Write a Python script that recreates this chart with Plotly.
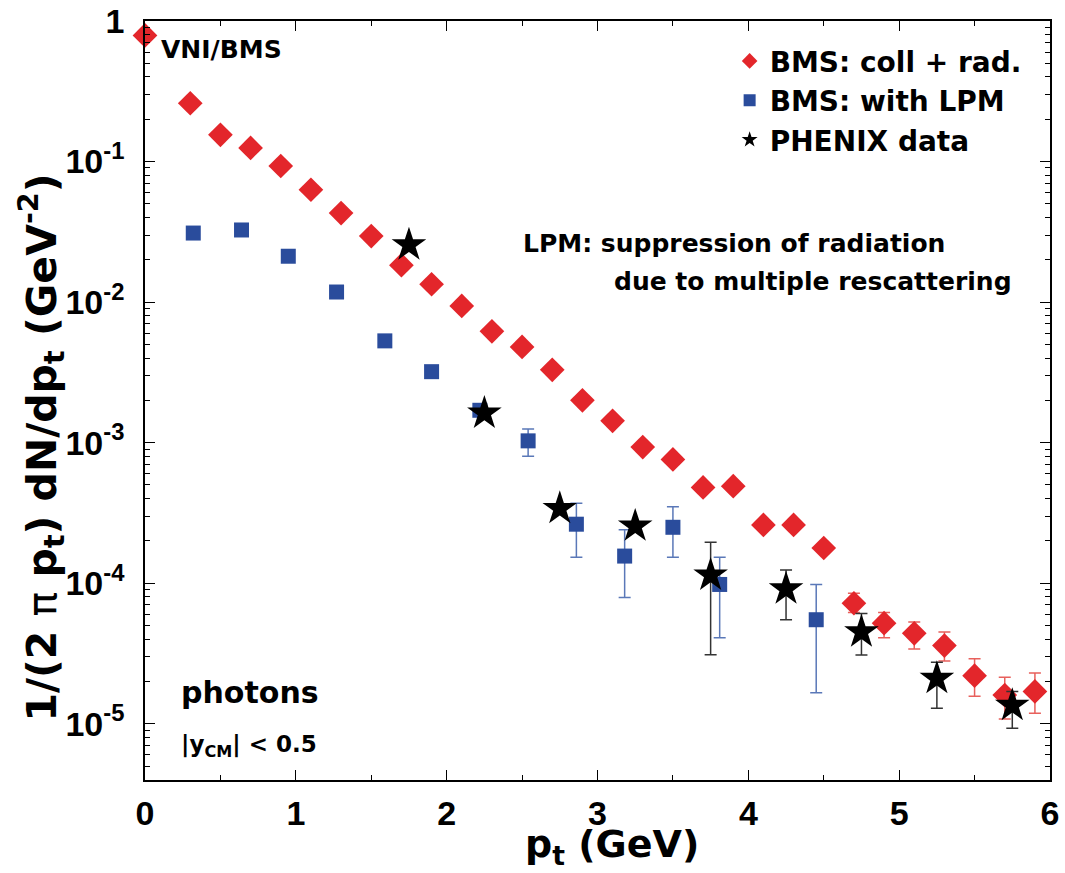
import plotly.graph_objects as go
import numpy as np

# --- BMS: coll + rad. (red diamonds)
red_x = [0.0, 0.3, 0.5, 0.7, 0.9, 1.1, 1.3, 1.5, 1.7, 1.9, 2.1, 2.3, 2.5, 2.7, 2.9,
         3.1, 3.3, 3.5, 3.7, 3.9, 4.1, 4.3, 4.5, 4.7, 4.9, 5.1, 5.3, 5.5, 5.7, 5.9]
red_y = [0.79, 0.26, 0.155, 0.125, 0.093, 0.063, 0.043, 0.0295, 0.0183, 0.0134, 0.0094,
         0.0062, 0.0048, 0.0033, 0.0020, 0.00143, 0.00093, 0.00076, 0.00048, 0.00049,
         0.00026, 0.00026, 0.000178, 7.2e-5, 5.2e-5, 4.4e-5, 3.6e-5, 2.2e-5, 1.6e-5, 1.7e-5]
red_hi = [None] * 23 + [8.5e-5, 6.2e-5, 5.3e-5, 4.5e-5, 2.9e-5, 2.14e-5, 2.3e-5]
red_lo = [None] * 23 + [6.2e-5, 4.1e-5, 3.4e-5, 2.8e-5, 1.57e-5, 1.08e-5, 1.19e-5]

# --- BMS: with LPM (blue squares)
blue_x = [0.32, 0.64, 0.95, 1.27, 1.59, 1.90, 2.22, 2.54, 2.86, 3.18, 3.50, 3.81, 4.45]
blue_y = [0.031, 0.0326, 0.0212, 0.0118, 0.0053, 0.0032, 0.0017, 0.00103, 0.000263,
          0.000156, 0.00025, 9.8e-5, 5.5e-5]
blue_hi = [None, None, None, None, None, 0.0035, 0.00185, 0.00125, 3.7e-4, 2.4e-4, 3.5e-4, 1.53e-4, 9.8e-5]
blue_lo = [None, None, None, None, None, 0.0029, 0.0016, 0.0008, 1.53e-4, 7.9e-5, 1.53e-4, 4.1e-5, 1.66e-5]

# --- PHENIX data (black stars)
star_x = [1.75, 2.25, 2.75, 3.25, 3.75, 4.25, 4.75, 5.25, 5.75]
star_y = [0.0255, 0.00162, 0.00034, 0.000255, 1.14e-4, 9.1e-5, 4.5e-5, 2.1e-5, 1.35e-5]
star_hi = [None, None, None, None, 1.96e-4, 1.24e-4, 6.1e-5, 2.74e-5, 1.7e-5]
star_lo = [None, None, None, None, 3.1e-5, 5.5e-5, 3.08e-5, 1.29e-5, 9.3e-6]

y_tickvals = [1, 1e-1, 1e-2, 1e-3, 1e-4, 1e-5]
y_ticktext = ["1", "10<sup>-1</sup>", "10<sup>-2</sup>", "10<sup>-3</sup>",
              "10<sup>-4</sup>", "10<sup>-5</sup>"]
x_tickvals = [0, 1, 2, 3, 4, 5, 6]


def errs(y, hi, lo):
    up = [np.nan if h is None else h - v for v, h in zip(y, hi)]
    dn = [np.nan if l is None else v - l for v, l in zip(y, lo)]
    return up, dn


RED = "#e3262b"
BLUE = "#2a4c9c"
TICKFONT = "Liberation Sans, Arial, sans-serif"
TEXTFONT = "DejaVu Sans, Liberation Sans, sans-serif"

fig = go.Figure()

ru, rd = errs(red_y, red_hi, red_lo)
bu, bd = errs(blue_y, blue_hi, blue_lo)
su, sd = errs(star_y, star_hi, star_lo)

fig.add_trace(go.Scatter(
    x=red_x, y=red_y, mode="markers", name="BMS: coll + rad.",
    marker=dict(symbol="diamond", size=19, color=RED, line=dict(width=0)),
    error_y=dict(type="data", symmetric=False, array=ru, arrayminus=rd,
                 color="#e8605c", thickness=1.5, width=6),
    cliponaxis=False, showlegend=False))
fig.add_trace(go.Scatter(
    x=blue_x, y=blue_y, mode="markers", name="BMS: with LPM",
    marker=dict(symbol="square", size=15, color=BLUE, line=dict(width=0)),
    error_y=dict(type="data", symmetric=False, array=bu, arrayminus=bd,
                 color="#5a78b8", thickness=1.5, width=6),
    cliponaxis=False, showlegend=False))
fig.add_trace(go.Scatter(
    x=star_x, y=star_y, mode="markers", name="PHENIX data",
    marker=dict(symbol="star", size=26, color="black", line=dict(width=0)),
    error_y=dict(type="data", symmetric=False, array=su, arrayminus=sd,
                 color="#333333", thickness=1.5, width=6),
    cliponaxis=False, showlegend=False))

# legend entries
fig.add_trace(go.Scatter(x=[None], y=[None], mode="markers", name="BMS: coll + rad.",
                         marker=dict(symbol="diamond", size=20, color=RED)))
fig.add_trace(go.Scatter(x=[None], y=[None], mode="markers", name="BMS: with LPM",
                         marker=dict(symbol="square", size=16, color=BLUE)))
fig.add_trace(go.Scatter(x=[None], y=[None], mode="markers", name="PHENIX data",
                         marker=dict(symbol="star", size=18, color="black")))

ann_font = dict(family=TEXTFONT, color="black", weight="bold")
fig.add_annotation(xref="paper", yref="paper", x=0.015, y=0.962, xanchor="left", yanchor="middle",
                   text="VNI/BMS", showarrow=False, font=dict(size=25, **ann_font))
fig.add_annotation(xref="paper", yref="paper", x=0.416, y=0.707, xanchor="left", yanchor="middle",
                   text="LPM: suppression of radiation", showarrow=False, font=dict(size=25, **ann_font))
fig.add_annotation(xref="paper", yref="paper", x=0.516, y=0.657, xanchor="left", yanchor="middle",
                   text="due to multiple rescattering", showarrow=False, font=dict(size=25, **ann_font))
fig.add_annotation(xref="paper", yref="paper", x=0.038, y=0.115, xanchor="left", yanchor="middle",
                   text="photons", showarrow=False, font=dict(size=30, **ann_font))
fig.add_annotation(xref="paper", yref="paper", x=0.038, y=0.045, xanchor="left", yanchor="middle",
                   text="|y<sub>CM</sub>| < 0.5", showarrow=False, font=dict(size=23, **ann_font))

# axis titles (placed as annotations to match the reference position)
fig.add_annotation(xref="paper", yref="paper", x=0.516, y=-0.088, xanchor="center", yanchor="middle",
                   text="p<sub>t</sub> (GeV)", showarrow=False, font=dict(size=38, **ann_font))
fig.add_annotation(xref="paper", yref="paper", x=-0.115, y=0.438, xanchor="center", yanchor="middle",
                   textangle=-90, showarrow=False, font=dict(size=41, **ann_font),
                   text="1/(2 <span style='font-weight:normal'>π</span> p<sub>t</sub>) dN/dp<sub>t</sub> (GeV<sup>-2</sup>)")

axis_common = dict(showline=True, linecolor="black", linewidth=1.5, mirror="allticks",
                   ticks="inside", ticklen=10, tickwidth=1.2, tickcolor="black",
                   showgrid=False, zeroline=False, automargin=False,
                   tickfont=dict(family=TICKFONT, size=34, color="black", weight="bold"))

fig.update_xaxes(range=[0, 6], tickvals=x_tickvals, ticklabelstandoff=2,
                 minor=dict(dtick=0.5, ticks="inside", ticklen=5, tickcolor="black", showgrid=False),
                 **axis_common)
fig.update_yaxes(type="log", range=[-5.4, 0], tickvals=y_tickvals, ticktext=y_ticktext,
                 ticklabelstandoff=12,
                 minor=dict(dtick="D1", ticks="inside", ticklen=5, tickcolor="black", showgrid=False),
                 **axis_common)

fig.update_layout(
    width=1065, height=873,
    margin=dict(l=145, r=15, t=21, b=93),
    paper_bgcolor="white", plot_bgcolor="white",
    legend=dict(x=0.646, y=0.98, xanchor="left", yanchor="top",
                bgcolor="rgba(0,0,0,0)", itemsizing="constant",
                font=dict(family=TEXTFONT, size=28, color="black", weight="bold"),
                tracegroupgap=0),
)

fig.write_html("out.html", post_script="document.body.style.margin='0';",
               config={"displayModeBar": False})
